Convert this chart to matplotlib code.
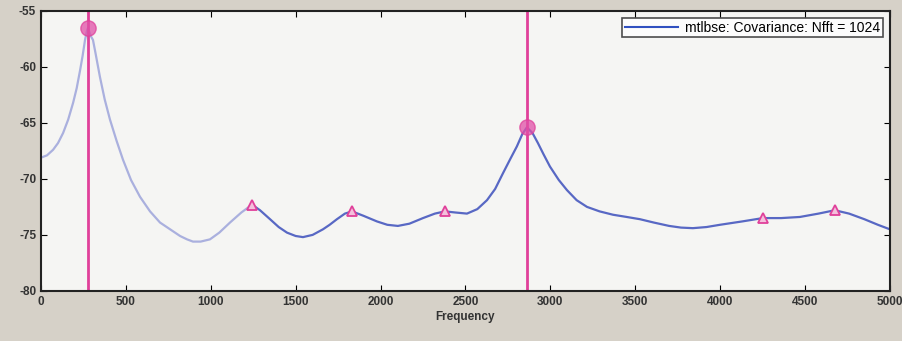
import numpy as np
import matplotlib.pyplot as plt

plt.rcParams['font.family'] = ['Liberation Sans', 'DejaVu Sans']
plt.rcParams['axes.unicode_minus'] = False

# spectrum (Hz, dB)
freq = [0, 35, 71, 100, 130, 160, 189, 210, 230, 245, 259, 270, 277, 285, 295,
        306, 320, 347, 375, 406, 445, 483, 530, 583, 642, 701, 760, 819, 860,
        895, 940, 995, 1050, 1113, 1180, 1243, 1290, 1349, 1400, 1449, 1500,
        1543, 1600, 1661, 1700, 1743, 1790, 1832, 1900, 1979, 2040, 2102, 2170,
        2250, 2320, 2379, 2440, 2509, 2570, 2627, 2675, 2721, 2765, 2803, 2835,
        2862, 2895, 2927, 2960, 2998, 3050, 3098, 3155, 3216, 3290, 3369, 3450,
        3528, 3610, 3700, 3770, 3840, 3920, 3999, 4130, 4252, 4360, 4470, 4580,
        4676, 4760, 4850, 4930, 5000]
power = [-68.1, -67.9, -67.4, -66.8, -65.9, -64.7, -63.2, -61.9, -60.3, -59.0,
         -57.6, -56.8, -56.5, -56.9, -57.3, -57.6, -58.7, -60.9, -62.9, -64.7,
         -66.6, -68.3, -70.1, -71.6, -72.9, -73.9, -74.5, -75.1, -75.4, -75.6,
         -75.6, -75.4, -74.8, -73.9, -73.0, -72.3, -72.8, -73.6, -74.3, -74.8,
         -75.1, -75.2, -75.0, -74.5, -74.1, -73.6, -73.1, -72.9, -73.3, -73.8,
         -74.1, -74.2, -74.0, -73.5, -73.1, -72.9, -73.0, -73.1, -72.7, -71.9,
         -70.9, -69.5, -68.2, -67.1, -66.0, -65.4, -65.9, -66.8, -67.8, -68.9,
         -70.1, -71.0, -71.9, -72.5, -72.9, -73.2, -73.4, -73.6, -73.9, -74.2,
         -74.35, -74.4, -74.3, -74.1, -73.8, -73.5, -73.5, -73.4, -73.1, -72.8,
         -73.1, -73.6, -74.1, -74.5]

peak_f = [277, 2862]
peak_p = [-56.5, -65.4]
tri_f = [1243, 1832, 2379, 4252, 4676]
tri_p = [-72.3, -72.9, -72.9, -73.5, -72.8]

fig = plt.figure(figsize=(9.02, 3.41), dpi=100, facecolor='#d6d1c8')
ax = fig.add_axes([0.0455, 0.147, 0.941, 0.821], facecolor='#f5f5f3')

split = freq.index(1243)
ax.plot(freq[:split + 1], power[:split + 1], color='#aab0de', lw=1.6)
ax.plot(freq[split:], power[split:], color='#5868c4', lw=1.6)
# proxy for legend
ax.plot([], [], color='#3050c0', lw=1.5, label='mtlbse: Covariance: Nfft = 1024')

for f in peak_f:
    ax.axvline(f, color='#e0409a', lw=2)
ax.plot(peak_f, peak_p, 'o', ms=11, color='#e050a8', alpha=0.75, mec='#e0409a')
ax.plot(tri_f, tri_p, '^', ms=7.5, mfc='#f4c0dc', mec='#e0409a', mew=1.3)

ax.set_xlim(0, 5000)
ax.set_ylim(-80, -55)
ax.set_xticks(np.arange(0, 5001, 500))
ax.set_yticks(np.arange(-80, -54, 5))
ax.tick_params(direction='in', top=True, right=True, labelsize=8.5, length=4)
for lab in ax.get_xticklabels() + ax.get_yticklabels():
    lab.set_fontweight('bold')
    lab.set_color('#333333')
for s in ax.spines.values():
    s.set_linewidth(1.5)
    s.set_color('#222222')
ax.set_xlabel('Frequency', fontsize=8.5, fontweight='bold', color='#333333', labelpad=2)

leg = ax.legend(loc='upper right', fontsize=10, frameon=True, fancybox=False,
                edgecolor='#222222', borderpad=0.2, handlelength=3.8, handletextpad=0.5,
                borderaxespad=0.5)
leg.get_frame().set_linewidth(1.2)

fig.savefig('out.png', dpi=100, facecolor=fig.get_facecolor())
